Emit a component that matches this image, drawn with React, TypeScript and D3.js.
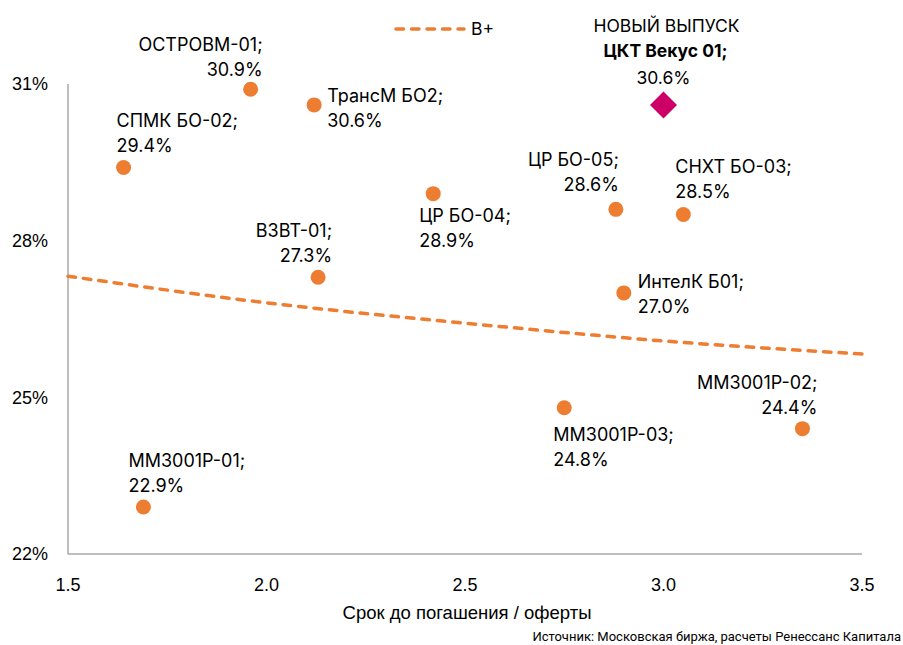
import React from "react";
import * as d3 from "d3";

const bondNames = [
  "ОСТРОВМ-01", "ТрансМ БО2", "СПМК БО-02", "ЦР БО-04", "ВЗВТ-01", "ЦР БО-05",
  "СНХТ БО-03", "ИнтелК Б01", "ММЗ001Р-03", "ММЗ001Р-02", "ММЗ001Р-01",
];
const bondMaturity = [1.96, 2.12, 1.64, 2.42, 2.13, 2.88, 3.05, 2.9, 2.75, 3.35, 1.69];
const bondYield = [30.9, 30.6, 29.4, 28.9, 27.3, 28.6, 28.5, 27.0, 24.8, 24.4, 22.9];

const newIssueTitle = "НОВЫЙ ВЫПУСК";
const newIssueName = "ЦКТ Векус 01";
const newIssueMaturity = 3.0;
const newIssueYield = 30.6;

const curveName = "B+";
const curveMaturity = [1.5, 2.0, 2.5, 3.0, 3.5];
const curveYield = [27.32, 26.81, 26.42, 26.08, 25.83];

const xTicks = [1.5, 2.0, 2.5, 3.0, 3.5];
const yTicks = [22, 25, 28, 31];

const xTitle = "Срок до погашения / оферты";
const sourceText = "Источник: Московская биржа, расчеты Ренессанс Капитала";

// label layout: [dx, dy of first line centre, anchor]
const labelLayout: [number, number, string][] = [
  [12, -45, "end"],
  [13, -9, "start"],
  [-7, -47, "start"],
  [-14, 22, "start"],
  [14, -47, "end"],
  [3, -50, "end"],
  [-8, -48, "start"],
  [14, -11, "start"],
  [-11, 27, "start"],
  [15, -46, "end"],
  [-15, -46, "start"],
];

const ORANGE = "#ED7D31";
const MAGENTA = "#CC0066";
const LABEL_FONT = "Inter, 'Liberation Sans', Arial, sans-serif";
const AXIS_FONT = "'Liberation Sans', Arial, sans-serif";

export default function App() {
  const width = 903;
  const height = 645;
  const x = d3.scaleLinear().domain([1.5, 3.5]).range([68, 862]);
  const y = d3.scaleLinear().domain([22, 31]).range([554, 84]);

  const curvePts = curveMaturity.map((m, i) => [m, curveYield[i]] as [number, number]);
  const line = d3
    .line<[number, number]>()
    .x((d) => x(d[0]))
    .y((d) => y(d[1]))
    .curve(d3.curveNatural);

  const fmt = (v: number) => v.toFixed(1) + "%";
  const nx = x(newIssueMaturity);
  const ny = y(newIssueYield);
  const dsz = 13.5;

  return (
    <svg
      width={width}
      height={height}
      style={{ position: "absolute", left: 0, top: 0, background: "#fff" }}
    >
      {/* legend */}
      <line
        x1={396}
        x2={464}
        y1={29}
        y2={29}
        stroke={ORANGE}
        strokeWidth={3.5}
        strokeDasharray="7.5 8"
        strokeLinecap="round"
      />
      <text x={471} y={29} dy="0.35em" fontFamily={LABEL_FONT} fontSize={17.5} fill="#000">
        {curveName}
      </text>

      {/* axes */}
      <line x1={68} x2={68} y1={84} y2={554} stroke="#7f7f7f" strokeWidth={1} />
      <line x1={68} x2={862} y1={554} y2={554} stroke="#7f7f7f" strokeWidth={1} />

      {yTicks.map((t) => (
        <text
          key={"y" + t}
          x={48}
          y={y(t)}
          dy="0.35em"
          textAnchor="end"
          fontFamily={AXIS_FONT}
          fontSize={18}
          fill="#000"
        >
          {t + "%"}
        </text>
      ))}
      {xTicks.map((t) => (
        <text
          key={"x" + t}
          x={x(t)}
          y={585}
          dy="0.35em"
          textAnchor="middle"
          fontFamily={AXIS_FONT}
          fontSize={18}
          fill="#000"
        >
          {t.toFixed(1)}
        </text>
      ))}
      <text
        x={467}
        y={613}
        dy="0.35em"
        textAnchor="middle"
        fontFamily={AXIS_FONT}
        fontSize={18.5}
        fill="#000"
      >
        {xTitle}
      </text>
      <text
        x={901}
        y={641}
        textAnchor="end"
        fontFamily="'Liberation Sans Narrow', 'Roboto', sans-serif"
        fontSize={13}
        fill="#000"
      >
        {sourceText}
      </text>

      {/* curve */}
      <path
        d={line(curvePts) || ""}
        fill="none"
        stroke={ORANGE}
        strokeWidth={3.5}
        strokeDasharray="7.5 8"
        strokeLinecap="round"
      />

      {/* bonds */}
      {bondNames.map((n, i) => {
        const px = x(bondMaturity[i]);
        const py = y(bondYield[i]);
        const [dx, dy, anchor] = labelLayout[i];
        return (
          <g key={n}>
            <circle cx={px} cy={py} r={7.5} fill={ORANGE} />
            <text
              x={px + dx}
              y={py + dy}
              textAnchor={anchor as any}
              fontFamily={LABEL_FONT}
              fontSize={18}
              fill="#000"
            >
              <tspan x={px + dx} dy="0.35em">
                {n + ";"}
              </tspan>
              <tspan x={px + dx} dy={25}>
                {fmt(bondYield[i])}
              </tspan>
            </text>
          </g>
        );
      })}

      {/* new issue */}
      <path
        d={`M${nx},${ny - dsz} L${nx + dsz},${ny} L${nx},${ny + dsz} L${nx - dsz},${ny} Z`}
        fill={MAGENTA}
      />
      <text
        x={nx + 3}
        y={ny - 79}
        dy="0.35em"
        textAnchor="middle"
        fontFamily={LABEL_FONT}
        fontSize={17.5}
        fill="#000"
      >
        {newIssueTitle}
      </text>
      <text
        x={nx + 2}
        y={ny - 54}
        dy="0.35em"
        textAnchor="middle"
        fontFamily={LABEL_FONT}
        fontSize={17.5}
        fontWeight="bold"
        fill="#000"
      >
        {newIssueName + ";"}
      </text>
      <text
        x={nx}
        y={ny - 27}
        dy="0.35em"
        textAnchor="middle"
        fontFamily={LABEL_FONT}
        fontSize={17.5}
        fill="#000"
      >
        {fmt(newIssueYield)}
      </text>
    </svg>
  );
}
